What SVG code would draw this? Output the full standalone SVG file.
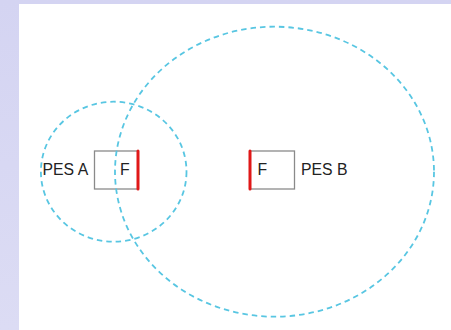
<svg xmlns="http://www.w3.org/2000/svg" width="451" height="330" viewBox="0 0 451 330">
<defs>
<linearGradient id="bg" x1="0" y1="0" x2="0" y2="1">
<stop offset="0" stop-color="#d4d4f2"/>
<stop offset="1" stop-color="#dcdcf4"/>
</linearGradient>
</defs>
<style>
.zone{fill:none;stroke:#58c6e2;stroke-width:1.8;stroke-dasharray:5.5 4}
.box{fill:#fff;stroke:#8a8a8a;stroke-width:1.3}
.red{stroke:#e01818;stroke-width:3;stroke-linecap:round}
.lbl{font-family:"Liberation Sans",Arial,sans-serif;font-size:15.8px;fill:#222}
</style>
<rect width="451" height="330" fill="url(#bg)"/>
<rect x="19" y="4" width="432" height="326" fill="#fff"/>
<g id="pesA">
<rect class="box" x="94.5" y="151" width="43.5" height="38"/>
<line class="red" x1="138" y1="151" x2="138" y2="189"/>
<text class="lbl" x="120" y="175">F</text>
<text class="lbl" x="42.5" y="175">PES A</text>
</g>
<g id="pesB">
<rect class="box" x="250" y="151" width="44.5" height="38"/>
<line class="red" x1="250" y1="151" x2="250" y2="189"/>
<text class="lbl" x="257.5" y="175">F</text>
<text class="lbl" x="301" y="175">PES B</text>
</g>
<g id="connectors">
<ellipse class="zone" cx="113.7" cy="171.7" rx="72.8" ry="70"/>
<ellipse class="zone" cx="274.5" cy="171.7" rx="159.5" ry="145"/>
</g>
</svg>
